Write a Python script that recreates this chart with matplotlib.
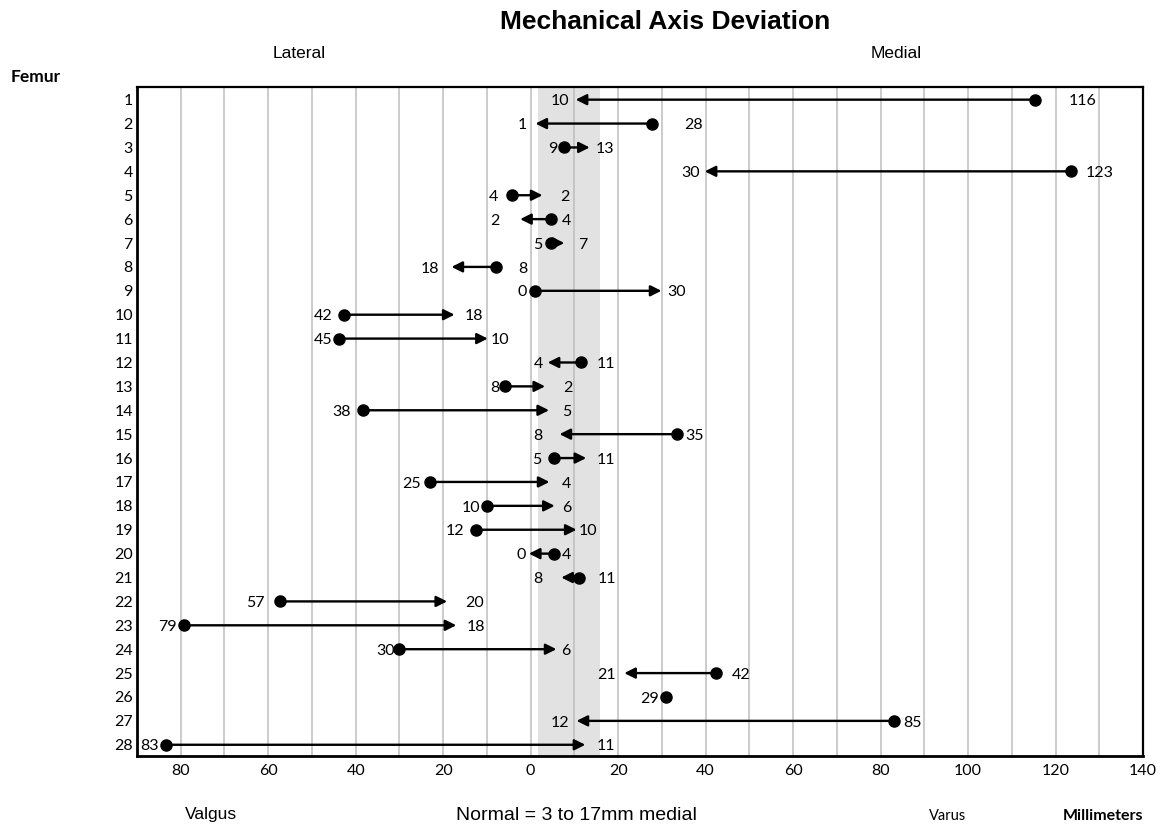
import matplotlib
matplotlib.use("Agg")
import matplotlib.pyplot as plt
from matplotlib.ticker import FuncFormatter

# femur number, dot = start (pre-op), arrow tip = end (post-op)
# millimeters, lateral is negative, medial positive
femur = list(range(1, 29))
start_mm = [115.4, 27.7, 7.6, 123.5, -4.2, 4.6, 4.6, -8.0, 1.0, -42.7,
            -43.9, 11.6, -5.8, -38.3, 33.4, 5.3, -23.1, -9.9, -12.4, 5.3,
            11.1, -57.2, -79.3, -30.0, 42.3, 31.0, 83.1, -83.3]
end_mm = [10.3, 1.1, 13.5, 39.8, 2.7, -2.4, 7.7, -18.1, 29.9, -17.4,
          -9.8, 3.9, 3.3, 4.2, 6.6, 12.7, 4.3, 5.5, 10.5, -0.4,
          7.0, -19.1, -17.0, 5.9, 21.4, None, 10.5, 12.5]
start_lab = ["116", "28", "9", "123", "4", "4", "5", "8", "0", "42",
             "45", "11", "8", "38", "35", "5", "25", "10", "12", "4",
             "11", "57", "79", "30", "42", "29", "85", "83"]
end_lab = ["10", "1", "13", "30", "2", "2", "7", "18", "30", "18",
           "10", "4", "2", "5", "8", "11", "4", "6", "10", "0",
           "8", "20", "18", "6", "21", "", "12", "11"]
normal_band = (1.6, 15.8)

# label spacing in pixels (layout only)
start_gap = [33, 32, 6, 15, 14, 11, 8, 23, 8, 11, 6, 15, 6, 12, 9, 12, 9, 7,
             12, 8, 18, 16, 7, 5, 16, 7, 9, 8]
end_gap = [6, 9, 6, 5, 18, 21, 14, 12, 6, 10, 3, 5, 18, 13, 17, 10, 12, 7,
           2, 3, 19, 18, 10, 5, 8, 0, 7, 11]

NUM_FONT = "Lato"
PX = 0.72  # points per pixel at 100 dpi

fig = plt.figure(figsize=(11.6, 8.25), dpi=100)
ax = fig.add_axes([137 / 1160, 1 - 756 / 825, (1143 - 137) / 1160, (756 - 87) / 825])

ax.axvspan(normal_band[0], normal_band[1], color="#e2e2e2", zorder=0, lw=0)
for g in range(-80, 140, 10):
    ax.axvline(g, color="#bdbdbd", lw=1.1, zorder=1)

for i, f in enumerate(femur):
    s = start_mm[i]
    e = end_mm[i]
    ax.plot([s], [f], "o", color="black", ms=8, zorder=4)
    if e is not None:
        ax.annotate("", xy=(e, f), xytext=(s, f),
                    arrowprops=dict(arrowstyle="-|>", color="black", lw=1.7,
                                    mutation_scale=16, shrinkA=0, shrinkB=0),
                    zorder=3)
    # left mark gets label on its left, right mark on its right
    if e is None or s < e:
        s_side, e_side = -1, 1
    else:
        s_side, e_side = 1, -1
    ax.annotate(start_lab[i], xy=(s, f), xytext=(s_side * start_gap[i] * PX, -1.2),
                textcoords="offset points", va="center",
                ha="left" if s_side > 0 else "right",
                fontsize=11.5, family=NUM_FONT, zorder=5)
    if e is not None:
        ax.annotate(end_lab[i], xy=(e, f), xytext=(e_side * end_gap[i] * PX, -1.2),
                    textcoords="offset points", va="center",
                    ha="left" if e_side > 0 else "right",
                    fontsize=11.5, family=NUM_FONT, zorder=5)

ax.set_xlim(-90, 140)
ax.set_ylim(28.47, 0.47)
ax.set_xticks(range(-80, 141, 20))
ax.xaxis.set_major_formatter(FuncFormatter(lambda v, p: "%d" % abs(v)))
ax.set_yticks(femur)
ax.tick_params(length=0, labelsize=11.5)
ax.tick_params(axis="x", pad=6)
ax.tick_params(axis="y", pad=3)
for lab in ax.get_xticklabels() + ax.get_yticklabels():
    lab.set_family(NUM_FONT)
for side in ["left", "bottom"]:
    ax.spines[side].set_linewidth(2.0)
for side in ["top", "right"]:
    ax.spines[side].set_linewidth(1.6)

def fy(y):
    return 1 - y / 825

fig.text(665 / 1160, fy(22), "Mechanical Axis Deviation", ha="center", va="center",
         fontsize=19, fontweight="bold", family="Liberation Sans")
fig.text(299 / 1160, fy(54), "Lateral", ha="center", va="center", fontsize=12.5,
         family="Liberation Sans")
fig.text(896 / 1160, fy(54), "Medial", ha="center", va="center", fontsize=12.5,
         family="Liberation Sans")
fig.text(11 / 1160, fy(77), "Femur", ha="left", va="center", fontsize=12.5,
         fontweight="bold", family=NUM_FONT)
fig.text(211 / 1160, fy(815), "Valgus", ha="center", va="center", fontsize=12.5,
         family="Liberation Sans")
fig.text(576 / 1160, fy(815), "Normal = 3 to 17mm medial", ha="center", va="center",
         fontsize=14, family="Liberation Sans")
fig.text(948 / 1160, fy(816), "Varus", ha="center", va="center", fontsize=10.5,
         family=NUM_FONT)
fig.text(1103 / 1160, fy(816), "Millimeters", ha="center", va="center", fontsize=11.5,
         fontweight="bold", family=NUM_FONT)

fig.savefig("out.png", dpi=100)
